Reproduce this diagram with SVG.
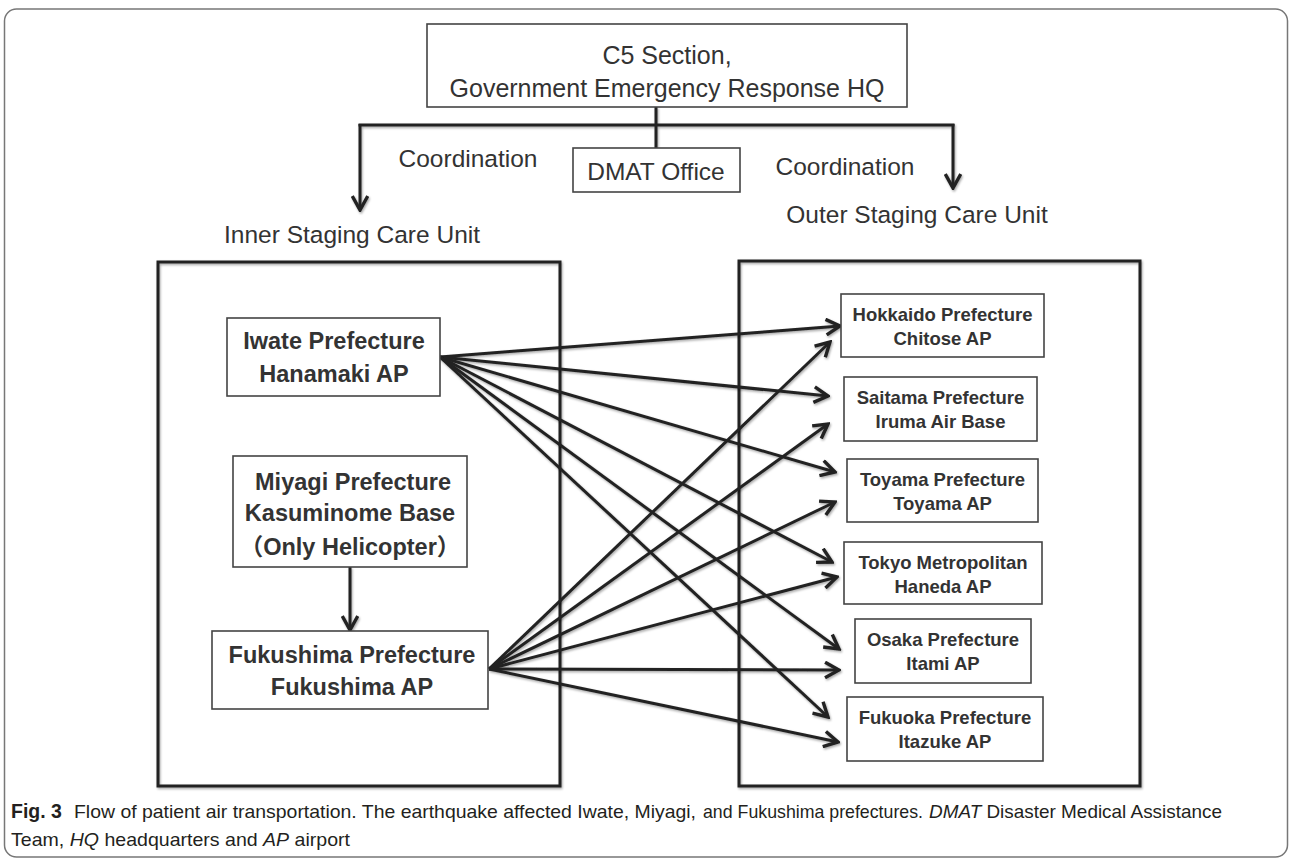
<svg xmlns="http://www.w3.org/2000/svg" width="1292" height="863" viewBox="0 0 1292 863">
<style>
  .frame{fill:#fff;stroke:#777;stroke-width:1.5}
  .big{fill:none;stroke:#222;stroke-width:3}
  .box{fill:#fff;stroke:#444;stroke-width:1.6}
  .lbl{font-family:"Liberation Sans",Arial,sans-serif;fill:#333;text-anchor:middle}
  .t26{font-size:25px}
  .t24{font-size:24.5px}
  .nl{font-family:"Liberation Sans","Noto Sans CJK JP",sans-serif;font-size:23.5px;font-weight:bold;fill:#333;text-anchor:middle}
  .nr{font-family:"Liberation Sans",Arial,sans-serif;font-size:18.5px;font-weight:bold;fill:#333;text-anchor:middle}
  .cap{font-family:"Liberation Sans",Arial,sans-serif;font-size:18.5px;fill:#231f20}
  .ln{fill:none;stroke:#222;stroke-width:3}
</style>
<defs>
  <marker id="ah" viewBox="0 0 12 12" refX="10.5" refY="6" markerWidth="6.2" markerHeight="6.2" markerUnits="strokeWidth" orient="auto">
    <path d="M1.5,1 L10.5,6 L1.5,11" fill="none" stroke="#222" stroke-width="2.2" stroke-linejoin="miter"/>
  </marker>
  <filter id="sh" x="-5%" y="-5%" width="110%" height="110%">
    <feDropShadow dx="1" dy="1.5" stdDeviation="1" flood-color="#000" flood-opacity="0.35"/>
  </filter>
</defs>

<rect class="frame" x="4.5" y="9" width="1283" height="848" rx="12"/>

<g id="containers" filter="url(#sh)">
  <rect id="inner-unit" class="big" x="158" y="262" width="402" height="524"/>
  <rect id="outer-unit" class="big" x="739" y="261" width="401" height="525"/>
</g>

<g id="connectors" filter="url(#sh)">
  <line class="ln" x1="656" y1="107" x2="656" y2="148"/>
  <line class="ln" x1="358.5" y1="125" x2="954.5" y2="125"/>
  <line class="ln" x1="360" y1="124" x2="360" y2="210" marker-end="url(#ah)"/>
  <line class="ln" x1="953" y1="124" x2="953" y2="188" marker-end="url(#ah)"/>
  <line class="ln" x1="350" y1="567" x2="350" y2="630" marker-end="url(#ah)"/>
  <!-- Iwate fan -->
  <line class="ln" x1="440" y1="357" x2="840" y2="326" marker-end="url(#ah)"/>
  <line class="ln" x1="440" y1="357" x2="828" y2="396" marker-end="url(#ah)"/>
  <line class="ln" x1="440" y1="357" x2="835" y2="472" marker-end="url(#ah)"/>
  <line class="ln" x1="440" y1="357" x2="832" y2="562" marker-end="url(#ah)"/>
  <line class="ln" x1="440" y1="357" x2="839" y2="649" marker-end="url(#ah)"/>
  <line class="ln" x1="440" y1="357" x2="828" y2="717" marker-end="url(#ah)"/>
  <!-- Fukushima fan -->
  <line class="ln" x1="489" y1="669" x2="830" y2="342" marker-end="url(#ah)"/>
  <line class="ln" x1="489" y1="669" x2="828" y2="424" marker-end="url(#ah)"/>
  <line class="ln" x1="489" y1="669" x2="835" y2="502" marker-end="url(#ah)"/>
  <line class="ln" x1="489" y1="669" x2="837" y2="577" marker-end="url(#ah)"/>
  <line class="ln" x1="489" y1="669" x2="839" y2="670" marker-end="url(#ah)"/>
  <line class="ln" x1="489" y1="669" x2="838" y2="742" marker-end="url(#ah)"/>
</g>

<g id="hq">
  <rect class="box" x="427" y="24" width="480" height="83"/>
  <text class="lbl t26" x="667" y="64">C5 Section,</text>
  <text class="lbl t26" x="667" y="97">Government Emergency Response HQ</text>
</g>

<g id="dmat">
  <rect class="box" x="573" y="148" width="167" height="44"/>
  <text class="lbl t24" x="656" y="180">DMAT Office</text>
</g>

<g id="labels">
  <text class="lbl t24" x="468" y="167">Coordination</text>
  <text class="lbl t24" x="845" y="175">Coordination</text>
  <text class="lbl t24" x="917" y="223">Outer Staging Care Unit</text>
  <text class="lbl t24" x="352" y="243">Inner Staging Care Unit</text>
</g>

<g id="iwate">
  <rect class="box" x="227" y="318" width="213" height="78"/>
  <text class="nl" x="334" y="349">Iwate Prefecture</text>
  <text class="nl" x="334" y="382">Hanamaki AP</text>
</g>

<g id="miyagi">
  <rect class="box" x="233" y="456" width="234" height="111"/>
  <text class="nl" x="353" y="490">Miyagi Prefecture</text>
  <text class="nl" x="350" y="521">Kasuminome Base</text>
  <text class="nl" x="350" y="555">（Only Helicopter）</text>
</g>

<g id="fukushima">
  <rect class="box" x="212" y="631" width="276" height="78"/>
  <text class="nl" x="352" y="663">Fukushima Prefecture</text>
  <text class="nl" x="352" y="695">Fukushima AP</text>
</g>

<g id="hokkaido">
  <rect class="box" x="841" y="294" width="203" height="63"/>
  <text class="nr" x="942.5" y="321">Hokkaido Prefecture</text>
  <text class="nr" x="942.5" y="345">Chitose AP</text>
</g>
<g id="saitama">
  <rect class="box" x="844" y="377" width="193" height="64"/>
  <text class="nr" x="940.5" y="404">Saitama Prefecture</text>
  <text class="nr" x="940.5" y="428">Iruma Air Base</text>
</g>
<g id="toyama">
  <rect class="box" x="847" y="459" width="191" height="63"/>
  <text class="nr" x="942.5" y="486">Toyama Prefecture</text>
  <text class="nr" x="942.5" y="510">Toyama AP</text>
</g>
<g id="tokyo">
  <rect class="box" x="844" y="542" width="198" height="62"/>
  <text class="nr" x="943" y="569">Tokyo Metropolitan</text>
  <text class="nr" x="943" y="593">Haneda AP</text>
</g>
<g id="osaka">
  <rect class="box" x="855" y="619" width="176" height="64"/>
  <text class="nr" x="943" y="646">Osaka Prefecture</text>
  <text class="nr" x="943" y="670">Itami AP</text>
</g>
<g id="fukuoka">
  <rect class="box" x="847" y="697" width="196" height="64"/>
  <text class="nr" x="945" y="724">Fukuoka Prefecture</text>
  <text class="nr" x="945" y="748">Itazuke AP</text>
</g>

<g id="caption">
  <text class="cap" x="11" y="818"><tspan font-weight="bold" font-size="19.5">Fig. 3</tspan></text>
  <text class="cap" x="74" y="818" textLength="622" lengthAdjust="spacingAndGlyphs">Flow of patient air transportation. The earthquake affected Iwate, Miyagi,</text>
  <text class="cap" x="703" y="818" textLength="220" lengthAdjust="spacingAndGlyphs">and Fukushima prefectures.</text>
  <text class="cap" x="929" y="818" textLength="293" lengthAdjust="spacingAndGlyphs"><tspan font-style="italic">DMAT</tspan> Disaster Medical Assistance</text>
  <text class="cap" x="11" y="846" textLength="339" lengthAdjust="spacingAndGlyphs">Team, <tspan font-style="italic">HQ</tspan> headquarters and  <tspan font-style="italic">AP</tspan> airport</text>
</g>
</svg>
